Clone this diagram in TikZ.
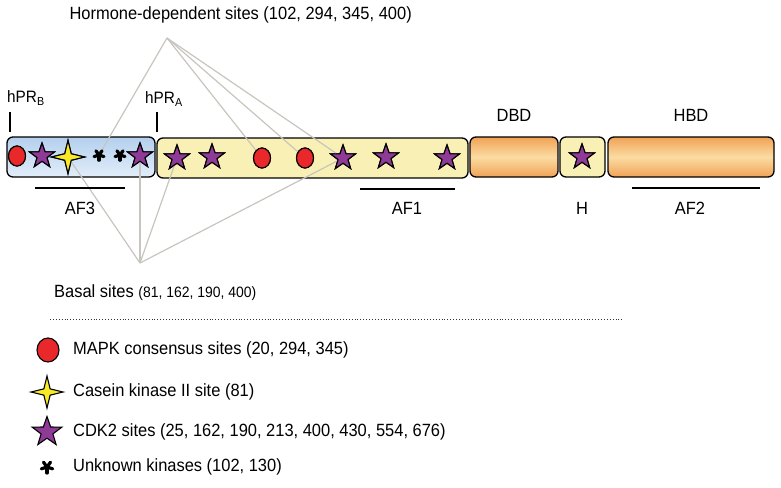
\documentclass[tikz,border=0pt]{standalone}
\usepackage{fontspec}
\setmainfont[FakeStretch=0.93]{Liberation Sans}
\usetikzlibrary{shapes.geometric}
\definecolor{redc}{HTML}{E8282A}
\definecolor{purp}{HTML}{8E3A96}
\definecolor{yelc}{HTML}{F8EA28}
\definecolor{paley}{HTML}{F8F0B4}
\definecolor{bluet}{HTML}{B4D0EE}
\definecolor{blueb}{HTML}{E2EDF9}
\definecolor{oredge}{HTML}{F0A256}
\definecolor{ormid}{HTML}{FBDCA2}
\definecolor{grayl}{HTML}{C8C5BE}
\tikzset{
  dom/.style={draw=black, line width=1.3pt, rounded corners=6pt, minimum height=40pt, inner sep=0pt},
  bluebox/.style={dom, top color=bluet, bottom color=blueb},
  yelbox/.style={dom, fill=paley},
  orbox/.style={dom, top color=oredge, bottom color=oredge, middle color=ormid},
  pstar/.style={star, star points=5, star point ratio=2.5, minimum size=26pt, inner sep=0pt, draw=black, line width=1.1pt, fill=purp},
  ystar/.style={star, star points=4, star point ratio=3.6, minimum size=33pt, inner sep=0pt, draw=black, line width=1.1pt, fill=yelc},
  rdot/.style={ellipse, minimum width=17pt, minimum height=20pt, inner sep=0pt, draw=black, line width=1.1pt, fill=redc},
  astk/.style={circle, minimum size=12pt, inner sep=0pt},
  arm/.style={line width=3.2pt, line cap=round, black},
  conn/.style={draw=grayl, line width=1.2pt},
  lab/.style={font=\fontsize{17.7}{20}\selectfont, inner sep=0pt},
  slab/.style={font=\fontsize{16.5}{18}\selectfont, inner sep=0pt},
  tick/.style={line width=1.4pt, black},
  bar/.style={line width=1.4pt, black}
}
\newcommand{\drawastk}[2]{\foreach \a in {-90,-18,54,126,198} \draw[arm] (#1.center) -- ++(\a:#2);}
\begin{document}
\begin{tikzpicture}[x=1pt,y=-1pt]
\useasboundingbox (0,0) rectangle (781,487);
% domain boxes
\node[bluebox, minimum width=148pt] (af3box) at (81,157) {};
\node[yelbox, minimum width=311pt] (af1box) at (312.5,158) {};
\node[orbox, minimum width=88pt] (dbd) at (514,157) {};
\node[yelbox, minimum width=45pt] (hbox) at (582.5,157) {};
\node[orbox, minimum width=166pt] (hbd) at (691,157) {};
% site placeholders (for connectors)
\node[rdot] (c0) at (17,156) {};
\node[pstar] (s1) at (42,156) {};
\node[ystar] (y1) at (68,157) {};
\node[astk] (u1) at (99,155) {};
\node[astk] (u2) at (120,155) {};
\node[pstar] (s2) at (140,156) {};
\node[pstar] (s3) at (177,158) {};
\node[pstar] (s4) at (212,157) {};
\node[rdot] (c1) at (262,158) {};
\node[rdot] (c2) at (305,158) {};
\node[pstar] (s5) at (343,158) {};
\node[pstar] (s6) at (386,157) {};
\node[pstar] (s7) at (447,158) {};
\node[pstar] (s8) at (582,157) {};
% connector apexes
\coordinate (hd) at (167,38);
\coordinate (bs) at (140,263);
\draw[conn] (hd) -- (u1);
\draw[conn] (hd) -- (c1);
\draw[conn] (hd) -- (c2);
\draw[conn] (hd) -- (s5);
\draw[conn] (bs) -- (y1.center);
\draw[conn] (bs) -- (s2.center);
\draw[conn] (bs) -- (s3.center);
\draw[conn] (bs) -- (s5.center);
% redraw symbols on top
\node[rdot] at (c0) {};
\node[pstar] at (s1) {};
\node[ystar] at (y1) {};
\drawastk{u1}{5.2pt}
\drawastk{u2}{5.2pt}
\node[pstar] at (s2) {};
\node[pstar] at (s3) {};
\node[pstar] at (s4) {};
\node[rdot] at (c1) {};
\node[rdot] at (c2) {};
\node[pstar] at (s5) {};
\node[pstar] at (s6) {};
\node[pstar] at (s7) {};
\node[pstar] at (s8) {};
% top labels
\node[lab, anchor=east] (hdl) at (412,15) {Hormone-dependent sites (102, 294, 345, 400)};
\node[slab, anchor=west] (hprb) at (7,98) {hPR\textsubscript{B}};
\node[slab, anchor=west] (hpra) at (145,99) {hPR\textsubscript{A}};
\coordinate (tb1) at (10,112); \coordinate (tb2) at (10,132);
\coordinate (ta1) at (157,112); \coordinate (ta2) at (157,132);
\draw[tick] (tb1) -- (tb2);
\draw[tick] (ta1) -- (ta2);
\node[lab] (dbdl) at (514,115) {DBD};
\node[lab] (hbdl) at (691,115) {HBD};
% bars and lower labels
\coordinate (b3a) at (35,188); \coordinate (b3b) at (125,188);
\coordinate (b1a) at (360,189); \coordinate (b1b) at (455,189);
\coordinate (b2a) at (632,188); \coordinate (b2b) at (760,188);
\draw[bar] (b3a) -- (b3b);
\draw[bar] (b1a) -- (b1b);
\draw[bar] (b2a) -- (b2b);
\node[lab] (af3l) at (80,208) {AF3};
\node[lab] (af1l) at (407,208) {AF1};
\node[lab] (hl) at (582,208) {H};
\node[lab] (af2l) at (690,208) {AF2};
\node[lab, anchor=west] (bsl) at (54,293) {Basal sites {\fontsize{15}{16}\selectfont (81, 162, 190, 400)}};
% dotted separator
\coordinate (d1) at (50,319); \coordinate (d2) at (622,319);
\draw[dotted, line width=0.9pt, black!80] (d1) -- (d2);
% legend
\node[rdot, minimum width=22pt, minimum height=24pt] (lg1) at (48,350) {};
\node[ystar, minimum size=32pt] (lg2) at (47,392) {};
\node[pstar, minimum size=31pt] (lg3) at (47,432) {};
\node[astk] (lg4) at (47,467) {};
\drawastk{lg4}{6pt}
\node[lab, anchor=west] (t1) at (73,350) {MAPK consensus sites (20, 294, 345)};
\node[lab, anchor=west] (t2) at (73,392) {Casein kinase II site (81)};
\node[lab, anchor=west] (t3) at (73,432) {CDK2 sites (25, 162, 190, 213, 400, 430, 554, 676)};
\node[lab, anchor=west] (t4) at (73,467) {Unknown kinases (102, 130)};
\end{tikzpicture}
\end{document}
